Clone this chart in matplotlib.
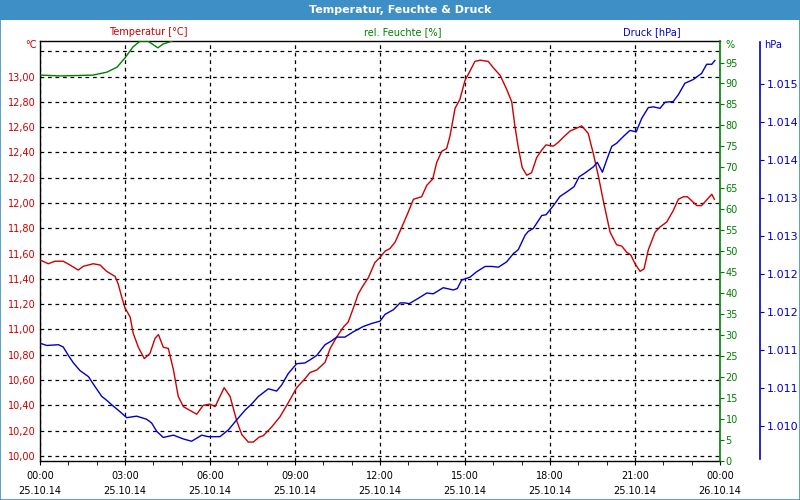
import matplotlib
matplotlib.use("Agg")
import matplotlib.pyplot as plt
from matplotlib.patches import Rectangle

# hours since 25.10.14 00:00
temp_h = [0.00, 0.29, 0.53, 0.82, 1.06, 1.35, 1.53, 1.88, 2.12, 2.35, 2.65, 2.76,
          2.88, 3.00, 3.18, 3.29, 3.47, 3.68, 3.88, 4.06, 4.18, 4.35, 4.53, 4.71,
          4.88, 5.06, 5.53, 5.76, 6.00, 6.18, 6.50, 6.71, 6.94, 7.12, 7.35, 7.53,
          7.74, 7.88, 8.18, 8.47, 8.76, 9.06, 9.35, 9.53, 9.77, 10.06, 10.24, 10.47,
          10.71, 10.88, 11.06, 11.23, 11.41, 11.59, 11.82, 12.00, 12.18, 12.35, 12.53,
          12.77, 13.00, 13.18, 13.47, 13.65, 13.86, 14.00, 14.18, 14.35, 14.47, 14.65,
          14.82, 15.00, 15.12, 15.35, 15.53, 15.82, 16.00, 16.24, 16.47, 16.65, 16.76,
          16.88, 17.02, 17.18, 17.35, 17.53, 17.71, 17.86, 18.12, 18.29, 18.47, 18.71,
          19.12, 19.35, 19.53, 19.71, 19.88, 20.12, 20.35, 20.53, 20.71, 20.85, 21.00,
          21.18, 21.32, 21.47, 21.71, 21.88, 22.12, 22.35, 22.53, 22.71, 22.85, 23.18,
          23.35, 23.71, 23.80]
temp_c = [11.55, 11.52, 11.54, 11.54, 11.51, 11.47, 11.50, 11.52, 11.51, 11.46, 11.42, 11.36,
          11.26, 11.17, 11.10, 10.97, 10.86, 10.77, 10.81, 10.93, 10.96, 10.86, 10.85, 10.68,
          10.47, 10.39, 10.33, 10.40, 10.41, 10.39, 10.54, 10.47, 10.28, 10.17, 10.11, 10.11,
          10.15, 10.16, 10.23, 10.31, 10.42, 10.54, 10.61, 10.66, 10.68, 10.74, 10.85, 10.94,
          11.02, 11.06, 11.17, 11.28, 11.35, 11.41, 11.53, 11.57, 11.62, 11.64, 11.69,
          11.81, 11.93, 12.03, 12.05, 12.14, 12.19, 12.32, 12.41, 12.43, 12.53, 12.75,
          12.82, 12.97, 13.02, 13.12, 13.13, 13.12, 13.07, 13.01, 12.90, 12.80, 12.61,
          12.44, 12.28, 12.22, 12.24, 12.36, 12.42, 12.46, 12.45, 12.48, 12.52, 12.57,
          12.61, 12.55, 12.39, 12.21, 12.02, 11.77, 11.67, 11.66, 11.61, 11.59, 11.52,
          11.46, 11.48, 11.63, 11.77, 11.81, 11.85, 11.94, 12.03, 12.05, 12.05, 11.98,
          11.98, 12.07, 12.03]

hum_h = [0.04, 0.71, 1.87, 2.36, 2.72, 3.00, 3.28, 3.53, 3.81, 4.16, 4.34, 4.66, 4.80, 24.0]
hum_pct = [92.0, 91.8, 92.0, 92.7, 93.9, 96.1, 98.7, 100.1, 100.1, 98.5, 99.4, 100.1, 101.5, 101.5]

pres_h = [0.00, 0.24, 0.65, 0.82, 1.00, 1.18, 1.41, 1.71, 1.94, 2.18, 2.35, 2.53, 2.82,
          3.06, 3.41, 3.76, 3.94, 4.12, 4.35, 4.71, 5.06, 5.35, 5.71, 5.94, 6.35, 6.65,
          6.94, 7.24, 7.47, 7.71, 8.06, 8.35, 8.53, 8.76, 9.06, 9.35, 9.53, 9.77, 10.06,
          10.29, 10.47, 10.76, 11.06, 11.41, 11.71, 12.00, 12.18, 12.47, 12.71, 12.88,
          13.03, 13.35, 13.65, 13.88, 14.23, 14.59, 14.73, 14.88, 15.18, 15.41, 15.71,
          15.94, 16.18, 16.47, 16.71, 16.88, 17.12, 17.23, 17.41, 17.71, 17.86, 18.12,
          18.35, 18.59, 18.85, 19.03, 19.24, 19.53, 19.67, 19.85, 20.00, 20.18, 20.35,
          20.59, 20.82, 21.04, 21.24, 21.47, 21.65, 21.88, 22.06, 22.35, 22.53, 22.76,
          23.06, 23.35, 23.53, 23.71, 23.82]
pres_hpa = [1011.09, 1011.06, 1011.07, 1011.04, 1010.93, 1010.83, 1010.73, 1010.65, 1010.52,
            1010.39, 1010.34, 1010.28, 1010.19, 1010.11, 1010.13, 1010.09, 1010.04, 1009.93,
            1009.85, 1009.88, 1009.83, 1009.80, 1009.88, 1009.86, 1009.86, 1009.95, 1010.08,
            1010.21, 1010.29, 1010.39, 1010.49, 1010.46, 1010.54, 1010.69, 1010.82, 1010.83,
            1010.87, 1010.93, 1011.07, 1011.12, 1011.17, 1011.17, 1011.24, 1011.31, 1011.35,
            1011.38, 1011.47, 1011.53, 1011.62, 1011.62, 1011.61, 1011.68, 1011.75, 1011.74,
            1011.82, 1011.79, 1011.81, 1011.92, 1011.96, 1012.03, 1012.10, 1012.10, 1012.09,
            1012.16, 1012.27, 1012.32, 1012.51, 1012.56, 1012.60, 1012.77, 1012.78, 1012.90,
            1013.02, 1013.08, 1013.15, 1013.28, 1013.33, 1013.41, 1013.47, 1013.34, 1013.50,
            1013.68, 1013.72, 1013.81, 1013.89, 1013.87, 1014.05, 1014.19, 1014.20, 1014.18,
            1014.26, 1014.27, 1014.36, 1014.51, 1014.56, 1014.64, 1014.76, 1014.76, 1014.81]

x_ticks = [0, 3, 6, 9, 12, 15, 18, 21, 24]
x_labels = ["00:00\n25.10.14", "03:00\n25.10.14", "06:00\n25.10.14", "09:00\n25.10.14",
            "12:00\n25.10.14", "15:00\n25.10.14", "18:00\n25.10.14", "21:00\n25.10.14",
            "00:00\n26.10.14"]
temp_ticks = [10.0, 10.2, 10.4, 10.6, 10.8, 11.0, 11.2, 11.4, 11.6, 11.8, 12.0, 12.2,
              12.4, 12.6, 12.8, 13.0, 13.2]
temp_labels = ["10,00", "10,20", "10,40", "10,60", "10,80", "11,00", "11,20", "11,40",
               "11,60", "11,80", "12,00", "12,20", "12,40", "12,60", "12,80", "13,00", ""]
hum_ticks = list(range(0, 100, 5))
pres_ticks = [1010.0, 1010.5, 1011.0, 1011.5, 1012.0, 1012.5, 1013.0, 1013.5, 1014.0, 1014.5]
pres_labels = ["1.010", "1.011", "1.011", "1.012", "1.012", "1.013", "1.013", "1.014",
               "1.014", "1.015"]

RED = "#cc0000"
GREEN = "#008000"
BLUE = "#0000cc"
FRAME = "#3d8fc6"

plt.rcParams["font.family"] = ["DejaVu Sans"]
plt.rcParams["font.size"] = 7

fig = plt.figure(figsize=(8, 5), dpi=100)
fig.patch.set_facecolor("white")

# title bar and window frame
fig.patches.append(Rectangle((0, 0.96), 1, 0.04, transform=fig.transFigure,
                             facecolor=FRAME, edgecolor="none", zorder=0))
fig.patches.append(Rectangle((0.0006, 0.001), 0.9988, 0.998, transform=fig.transFigure,
                             facecolor="none", edgecolor=FRAME, lw=1.2, zorder=0))
fig.text(0.5, 0.98, "Temperatur, Feuchte & Druck", color="white", fontsize=8,
         fontweight="bold", ha="center", va="center")

ax = fig.add_axes([0.05, 0.078, 0.85, 0.8406])
ax.plot(temp_h, temp_c, color=RED, lw=1, zorder=3)
ax.set_xlim(0, 24)
ax.set_ylim(9.96, 13.284)
ax.set_xticks(x_ticks)
ax.set_xticklabels(x_labels, linespacing=1.65)
ax.set_xticks(range(0, 25), minor=True)
ax.tick_params(axis="x", which="both", length=3, direction="out", color="black",
               labelsize=7, pad=4)
ax.set_yticks(temp_ticks)
ax.set_yticklabels(temp_labels)
ax.tick_params(axis="y", length=0, pad=3, labelcolor=RED, labelsize=7)
ax.grid(True, color="black", ls=(0, (3, 3)), lw=0.9)
ax.spines["right"].set_visible(False)
for s in ["left", "bottom", "top"]:
    ax.spines[s].set_linewidth(1)
ax.set_axisbelow(True)

ax_h = ax.twinx()
ax_h.plot(hum_h, hum_pct, color=GREEN, lw=1, zorder=3)
ax_h.set_ylim(0, 100.2)
ax_h.set_yticks(hum_ticks)
ax_h.tick_params(axis="y", length=3, color=GREEN, labelcolor=GREEN, labelsize=7, pad=1)
ax_h.spines["right"].set_color(GREEN)
ax_h.spines["right"].set_linewidth(1.2)
for s in ["left", "bottom", "top"]:
    ax_h.spines[s].set_visible(False)

ax_p = ax.twinx()
ax_p.plot(pres_h, pres_hpa, color=BLUE, lw=1, zorder=3)
ax_p.set_ylim(1009.54, 1015.07)
ax_p.set_yticks(pres_ticks)
ax_p.set_yticklabels(pres_labels)
ax_p.spines["right"].set_position(("axes", 1.0588))
ax_p.spines["right"].set_color(BLUE)
ax_p.spines["right"].set_linewidth(1.2)
ax_p.spines["right"].set_bounds(1009.57, 1015.05)
for s in ["left", "bottom", "top"]:
    ax_p.spines[s].set_visible(False)
ax_p.tick_params(axis="y", length=3, color=BLUE, labelcolor=BLUE, labelsize=8, pad=2)

# axis captions
fig.text(148 / 800, 1 - 32 / 500, "Temperatur [°C]", color=RED, fontsize=7,
         ha="center", va="center")
fig.text(403 / 800, 1 - 32 / 500, "rel. Feuchte [%]", color=GREEN, fontsize=7,
         ha="center", va="center")
fig.text(652 / 800, 1 - 32 / 500, "Druck [hPa]", color=BLUE, fontsize=7,
         ha="center", va="center")
fig.text(37 / 800, 1 - 45 / 500, "°C", color=RED, fontsize=7, ha="right", va="center")
fig.text(725 / 800, 1 - 45 / 500, "%", color=GREEN, fontsize=7, ha="left", va="center")
fig.text(764 / 800, 1 - 45 / 500, "hPa", color=BLUE, fontsize=7, ha="left", va="center")

fig.savefig("out.png", dpi=100)
